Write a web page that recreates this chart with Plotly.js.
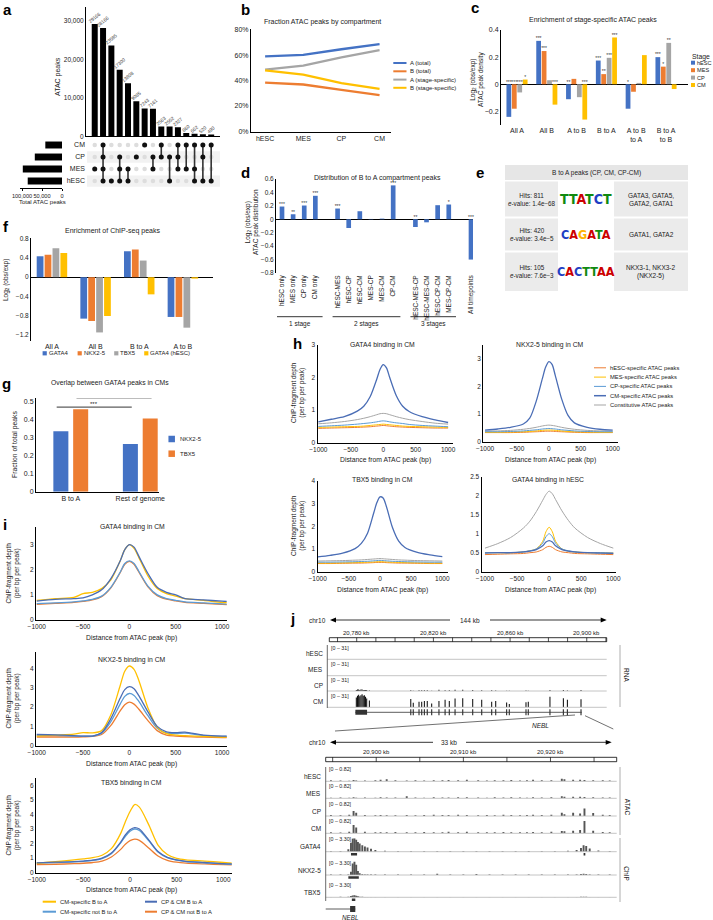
<!DOCTYPE html>
<html>
<head>
<meta charset="utf-8">
<script src="https://cdn.plot.ly/plotly-3.0.1.min.js"></script>
<style>
html,body{margin:0;padding:0;background:#ffffff;}
#fig{width:713px;height:920px;}
</style>
</head>
<body>
<div id="fig"></div>
<script>
// ======================= DATA =======================
// (a) UpSet plot
const upsetSets = ['hESC', 'MES', 'CP', 'CM'];
const upsetSetTotals = [85700, 98000, 68000, 41700];
const upsetCombos = ['MES', 'CM+CP+MES+hESC', 'hESC', 'CP+MES+hESC', 'MES+hESC', 'CP', 'CM', 'CP+MES', 'CM+CP', 'CP+hESC', 'CM+CP+MES', 'CM+MES', 'CM+MES+hESC', 'CM+CP+hESC', 'CM+hESC'];
const upsetCounts = [29166, 28166, 23585, 17300, 13808, 9085, 7243, 7161, 2563, 2552, 2327, 860, 662, 520, 490];
const upsetYTicks = [0, 10000, 20000, 30000];
const upsetYTickText = ['0', '10,000', '20,000', '30,000'];
const totalTicks = [100000, 50000, 0];
const totalTickText = ['100,000', '50,000', '0'];

// (b) Fraction ATAC peaks by compartment
const bStages = ['hESC', 'MES', 'CP', 'CM'];
const bNames = ['A (total)', 'B (total)', 'A (stage-specific)', 'B (stage-specific)'];
const bATotal = [59.0, 60.2, 64.6, 68.6];
const bBTotal = [38.4, 36.9, 32.7, 28.5];
const bASpec = [48.6, 51.8, 58.3, 64.0];
const bBSpec = [48.0, 44.7, 37.9, 33.5];
const bYTicks = [0, 20, 40, 60, 80];

// (c) Enrichment of stage-specific ATAC peaks
const cCats = ['All A', 'All B', 'A to B', 'B to A', 'A to B<br>to A', 'B to A<br>to B'];
const cStages = ['hESC', 'MES', 'CP', 'CM'];
const cHESC = [-0.24, 0.32, -0.11, 0.175, -0.18, 0.2];
const cMES = [-0.18, 0.245, 0.04, 0.075, -0.055, 0.13];
const cCP = [-0.06, 0.03, -0.095, 0.195, 0.01, 0.305];
const cCM = [0.035, -0.15, -0.26, 0.345, 0.215, -0.035];
const cSigHESC = ['***', '***', '**', '***', '*', '***'];
const cSigMES = ['***', '***', '', '**', '', '*'];
const cSigCP = ['***', '', '', '***', '', '**'];
const cSigCM = ['*', '***', '***', '***', '', ''];
const cYTicks = [-0.2, 0, 0.2, 0.4];

// (d) Distribution of B to A compartment peaks
const dCats = ['hESC only', 'MES only', 'CP only', 'CM only', 'hESC-MES', 'hESC-CP', 'hESC-CM', 'MES-CP', 'MES-CM', 'CP-CM', 'hESC-MES-CP', 'hESC-MES-CM', 'hESC-CP-CM', 'MES-CP-CM', 'All timepoints'];
const dGroup = [0, 0, 0, 0, 1, 1, 1, 1, 1, 1, 2, 2, 2, 2, 3];
const dGroupNames = ['1 stage', '2 stages', '3 stages'];
const dVals = [0.19, 0.075, 0.205, 0.35, 0.16, -0.13, 0.12, 0.005, 0.01, 0.505, -0.115, -0.045, 0.21, 0.22, -0.6];
const dSig = ['***', '**', '***', '***', '***', '', '', '', '', '***', '**', '', '', '*', '***'];
const dYTicks = [-0.8, -0.6, -0.4, -0.2, 0, 0.2, 0.4, 0.6];

// (e) motif table
const eHeader = 'B to A peaks (CP, CM, CP-CM)';
const eHits = ['Hits: 811', 'Hits: 420', 'Hits: 105'];
const eEvalues = ['1.4e−68', '3.4e−5', '7.6e−3'];
const eMotifs = ['TTATCT', 'CAGATA', 'CACTTAA'];
const eMatches = ['GATA3, GATA5,<br>GATA2, GATA1', 'GATA1, GATA2', 'NKX3-1, NKX3-2<br>(NKX2-5)'];

// (f) Enrichment of ChIP-seq peaks
const fCats = ['All A', 'All B', 'B to A', 'A to B'];
const fNames = ['GATA4', 'NKX2-5', 'TBX5', 'GATA4 (hESC)'];
const fGATA4 = [0.44, -0.87, 0.545, -0.835];
const fNKX25 = [0.47, -0.92, 0.58, -0.835];
const fTBX5 = [0.61, -1.16, 0.35, -1.06];
const fGATA4hESC = [0.51, -0.815, -0.36, -0.03];
const fYTicks = [-1.2, -0.8, -0.4, 0, 0.4, 0.8];

// (g) Overlap between GATA4 peaks in CMs
const gCats = ['B to A', 'Rest of genome'];
const gNames = ['NKX2-5', 'TBX5'];
const gNKX25 = [0.336, 0.266];
const gTBX5 = [0.459, 0.407];
const gSigLabels = ['***', '**'];
const gYTicks = [0, 0.1, 0.2, 0.3, 0.4, 0.5];

// (h) ChIP profiles around stage-specific ATAC peaks
const hNames = ['hESC-specific ATAC peaks', 'MES-specific ATAC peaks', 'CP-specific ATAC peaks', 'CM-specific ATAC peaks', 'Constitutive ATAC peaks'];
const hX = [-1000, -800, -600, -400, -300, -200, -100, -50, 0, 50, 100, 200, 300, 400, 600, 800, 1000];
const hG4CM_hESC = [0.44, 0.45, 0.46, 0.47, 0.48, 0.49, 0.51, 0.52, 0.53, 0.52, 0.51, 0.49, 0.48, 0.47, 0.46, 0.45, 0.45];
const hG4CM_MES = [0.47, 0.48, 0.49, 0.5, 0.51, 0.53, 0.55, 0.56, 0.57, 0.56, 0.55, 0.53, 0.51, 0.5, 0.49, 0.48, 0.47];
const hG4CM_CP = [0.5, 0.52, 0.54, 0.57, 0.59, 0.61, 0.64, 0.66, 0.67, 0.66, 0.64, 0.61, 0.59, 0.56, 0.53, 0.51, 0.49];
const hG4CM_CM = [0.64, 0.72, 0.8, 0.97, 1.12, 1.42, 1.95, 2.25, 2.4, 2.3, 2.0, 1.45, 1.12, 0.96, 0.8, 0.7, 0.62];
const hG4CM_Con = [0.58, 0.61, 0.65, 0.71, 0.75, 0.8, 0.86, 0.89, 0.9, 0.89, 0.86, 0.8, 0.75, 0.71, 0.65, 0.6, 0.57];
const hNKCM_hESC = [0.33, 0.33, 0.33, 0.34, 0.35, 0.36, 0.37, 0.38, 0.38, 0.38, 0.37, 0.36, 0.35, 0.34, 0.33, 0.33, 0.33];
const hNKCM_MES = [0.34, 0.34, 0.35, 0.36, 0.37, 0.39, 0.41, 0.42, 0.42, 0.42, 0.41, 0.39, 0.37, 0.36, 0.35, 0.34, 0.34];
const hNKCM_CP = [0.36, 0.36, 0.37, 0.39, 0.41, 0.43, 0.46, 0.47, 0.48, 0.47, 0.46, 0.43, 0.41, 0.39, 0.37, 0.36, 0.36];
const hNKCM_CM = [0.42, 0.46, 0.52, 0.64, 0.85, 1.45, 2.3, 2.7, 2.9, 2.8, 2.4, 1.55, 0.95, 0.68, 0.52, 0.45, 0.42];
const hNKCM_Con = [0.38, 0.39, 0.41, 0.45, 0.48, 0.52, 0.57, 0.59, 0.6, 0.59, 0.57, 0.52, 0.48, 0.45, 0.41, 0.39, 0.38];
const hTBCM_hESC = [0.36, 0.36, 0.37, 0.38, 0.38, 0.39, 0.4, 0.41, 0.41, 0.41, 0.4, 0.39, 0.38, 0.38, 0.37, 0.36, 0.36];
const hTBCM_MES = [0.38, 0.38, 0.39, 0.4, 0.41, 0.42, 0.43, 0.44, 0.44, 0.44, 0.43, 0.42, 0.41, 0.4, 0.39, 0.38, 0.38];
const hTBCM_CP = [0.42, 0.42, 0.43, 0.44, 0.45, 0.46, 0.48, 0.49, 0.5, 0.49, 0.48, 0.46, 0.45, 0.44, 0.43, 0.42, 0.42];
const hTBCM_CM = [0.65, 0.72, 0.82, 1.02, 1.25, 1.7, 2.6, 3.05, 3.3, 3.25, 2.9, 1.95, 1.35, 1.07, 0.85, 0.74, 0.66];
const hTBCM_Con = [0.47, 0.48, 0.49, 0.51, 0.52, 0.54, 0.56, 0.57, 0.58, 0.57, 0.56, 0.54, 0.52, 0.51, 0.49, 0.48, 0.47];
const hG4ES_hESC = [0.45, 0.46, 0.47, 0.48, 0.5, 0.52, 0.58, 0.64, 0.67, 0.64, 0.58, 0.52, 0.5, 0.48, 0.47, 0.46, 0.45];
const hG4ES_MES = [0.5, 0.5, 0.5, 0.52, 0.55, 0.6, 0.8, 1.05, 1.17, 1.05, 0.8, 0.6, 0.54, 0.52, 0.5, 0.5, 0.49];
const hG4ES_CP = [0.5, 0.5, 0.5, 0.52, 0.55, 0.6, 0.75, 0.92, 1.0, 0.92, 0.75, 0.6, 0.55, 0.52, 0.5, 0.5, 0.49];
const hG4ES_CM = [0.49, 0.5, 0.5, 0.52, 0.54, 0.58, 0.68, 0.78, 0.82, 0.78, 0.68, 0.58, 0.54, 0.52, 0.5, 0.49, 0.48];
const hG4ES_Con = [0.62, 0.74, 0.9, 1.15, 1.33, 1.58, 1.88, 2.03, 2.12, 2.05, 1.9, 1.6, 1.35, 1.15, 0.9, 0.74, 0.62];
const hTitles = ['GATA4 binding in CM', 'NKX2-5 binding in CM', 'TBX5 binding in CM', 'GATA4 binding in hESC'];

// (i) ChIP profiles around B to A peaks
const iNames = ['CM-specific B to A', 'CP & CM B to A', 'CM-specific not B to A', 'CP & CM not B to A'];
const iX = [-1000, -800, -600, -500, -400, -300, -200, -100, -50, 0, 50, 100, 200, 300, 400, 500, 600, 800, 1000, 1100];
const iG4_specBA = [0.78, 0.85, 0.9, 1.05, 1.1, 1.25, 1.6, 2.35, 2.8, 3.0, 2.85, 2.5, 1.75, 1.25, 1.05, 0.95, 0.85, 0.78, 0.7, 0.68];
const iG4_ccBA = [0.75, 0.82, 0.85, 0.88, 1.0, 1.2, 1.65, 2.35, 2.8, 3.0, 2.9, 2.55, 1.85, 1.3, 1.1, 1.0, 0.85, 0.8, 0.75, 0.73];
const iG4_specNot = [0.65, 0.68, 0.72, 0.76, 0.82, 0.95, 1.3, 1.9, 2.25, 2.35, 2.25, 1.95, 1.35, 1.0, 0.85, 0.78, 0.72, 0.68, 0.64, 0.63];
const iG4_ccNot = [0.62, 0.66, 0.7, 0.74, 0.8, 0.93, 1.28, 1.88, 2.22, 2.33, 2.22, 1.92, 1.32, 0.97, 0.83, 0.76, 0.7, 0.66, 0.62, 0.61];
const iNK_specBA = [0.5, 0.55, 0.6, 0.68, 0.66, 0.78, 1.6, 3.1, 3.85, 4.12, 3.95, 3.4, 1.95, 0.95, 0.62, 0.55, 0.52, 0.48, 0.45, 0.45];
const iNK_ccBA = [0.58, 0.56, 0.52, 0.5, 0.5, 0.68, 1.4, 2.45, 2.9, 3.05, 2.95, 2.6, 1.75, 1.0, 0.72, 0.68, 0.7, 0.55, 0.5, 0.5];
const iNK_specNot = [0.55, 0.53, 0.5, 0.5, 0.5, 0.65, 1.25, 2.15, 2.55, 2.7, 2.6, 2.3, 1.55, 0.9, 0.65, 0.62, 0.65, 0.52, 0.48, 0.48];
const iNK_ccNot = [0.45, 0.45, 0.45, 0.46, 0.48, 0.58, 1.05, 1.8, 2.12, 2.25, 2.15, 1.9, 1.3, 0.78, 0.55, 0.5, 0.47, 0.44, 0.42, 0.42];
const iTB_specBA = [0.65, 0.75, 0.88, 0.95, 1.03, 1.2, 1.65, 2.7, 3.5, 4.2, 4.68, 4.5, 3.3, 1.9, 1.25, 0.98, 0.88, 0.8, 0.7, 0.65];
const iTB_ccBA = [0.68, 0.72, 0.76, 0.8, 0.86, 1.0, 1.35, 2.1, 2.6, 2.95, 3.1, 3.0, 2.25, 1.45, 1.05, 0.88, 0.78, 0.7, 0.62, 0.6];
const iTB_specNot = [0.66, 0.7, 0.74, 0.78, 0.84, 0.97, 1.3, 2.05, 2.5, 2.85, 3.0, 2.9, 2.2, 1.42, 1.03, 0.86, 0.76, 0.68, 0.6, 0.58];
const iTB_ccNot = [0.55, 0.58, 0.62, 0.65, 0.7, 0.8, 1.08, 1.6, 1.95, 2.2, 2.3, 2.22, 1.7, 1.15, 0.85, 0.72, 0.66, 0.6, 0.55, 0.54];
const iTitles = ['GATA4 binding in CM', 'NKX2-5 binding in CM', 'TBX5 binding in CM'];

// (j) genome browser, NEBL locus (kb on chr10)
const rnaTracks = ['hESC', 'MES', 'CP', 'CM'];
const rnaKb = [20779.8, 20780.4, 20781.0, 20781.6, 20782.2, 20782.8, 20783.4, 20784.0, 20784.6, 20785.2, 20786.6, 20808.2, 20809.5, 20812.5, 20813.9, 20815.3, 20816.8, 20819.1, 20822.9, 20826.1, 20828.3, 20831.3, 20835.3, 20840.5, 20845.2, 20850.4, 20852.5, 20858.2, 20859.6, 20868.3, 20869.5, 20880.8, 20887.8, 20889.9, 20897.0];
const rnaCM = [20, 24, 26, 23, 25, 27, 24, 25, 22, 18, 14, 17, 9.6, 11.6, 11.6, 12.9, 13, 7.7, 12.9, 15.5, 13, 18, 18.7, 17.4, 15.5, 11.6, 13, 9.7, 7, 10.3, 11.6, 22, 18.7, 15.5, 16.8];
const rnaCP = [2, 3, 3, 2, 3, 3, 2, 2, 2, 2, 1, 1.5, 0.5, 1.5, 1.5, 1.5, 1.5, 0.5, 2.5, 1.5, 1.5, 2.5, 2.5, 2, 1.5, 1.5, 1, 0.5, 0.5, 1, 0.5, 2, 2, 1, 2];
const neblExonsKb = [20808.2, 20809.5, 20812.5, 20813.9, 20815.3, 20816.8, 20819.1, 20822.9, 20826.1, 20828.3, 20831.3, 20835.3, 20840.5, 20845.2, 20850.4, 20852.5, 20858.2, 20859.6, 20868.3, 20869.5, 20880.8, 20887.8, 20889.9, 20897.0];
const neblGeneKb = [20779.3, 20897.4];
const neblFirstExonKb = [20779.3, 20785.4];
const rulerTopKb = [20780, 20820, 20860, 20900];
const rulerBotKb = [20900, 20910, 20920];
const lowTracks = ['hESC', 'MES', 'CP', 'CM', 'GATA4', 'NKX2-5', 'TBX5'];
const lowRanges = ['[0 – 0.82]', '[0 – 0.82]', '[0 – 0.82]', '[0 – 0.82]', '[0 – 3.30]', '[0 – 3.30]', '[0 – 3.30]'];
const jAtacPos = [20894.8, 20895.9, 20896.9, 20897.4, 20897.7, 20898.7, 20899.9, 20900.5, 20901.2, 20902.2, 20903.5, 20904.5, 20905.5, 20906.6, 20907.6, 20908.3, 20909.4, 20910.4, 20911.7, 20912.7, 20913.6, 20914.6, 20915.5, 20916.5, 20917.3, 20918.0, 20919.0, 20920.1, 20921.3, 20921.6, 20922.6, 20923.4, 20923.9, 20924.9, 20926.0, 20926.8];
const atacHESC = [0.06, 0.05, 0.04, 0.08, 0.05, 0.05, 0.07, 0.1, 0.13, 0.06, 0.05, 0.06, 0.05, 0.07, 0.06, 0.08, 0.07, 0.1, 0.06, 0.05, 0.07, 0.06, 0.08, 0.05, 0.07, 0.09, 0.06, 0.07, 0.16, 0.12, 0.09, 0.1, 0.08, 0.07, 0.06, 0.05];
const atacMES = [0.04, 0.05, 0.03, 0.06, 0.04, 0.05, 0.04, 0.06, 0.05, 0.05, 0.12, 0.05, 0.04, 0.06, 0.05, 0.05, 0.06, 0.07, 0.05, 0.04, 0.06, 0.05, 0.06, 0.05, 0.04, 0.06, 0.05, 0.06, 0.12, 0.1, 0.09, 0.1, 0.08, 0.06, 0.05, 0.05];
const atacCP = [0.06, 0.05, 0.08, 0.31, 0.2, 0.06, 0.05, 0.06, 0.05, 0.05, 0.06, 0.05, 0.06, 0.08, 0.06, 0.06, 0.07, 0.06, 0.05, 0.06, 0.05, 0.07, 0.06, 0.05, 0.06, 0.07, 0.06, 0.07, 0.2, 0.1, 0.2, 0.15, 0.45, 0.18, 0.08, 0.06];
const atacCM = [0.06, 0.05, 0.1, 0.5, 0.35, 0.1, 0.06, 0.07, 0.06, 0.08, 0.06, 0.07, 0.08, 0.06, 0.07, 0.09, 0.07, 0.1, 0.06, 0.07, 0.06, 0.08, 0.06, 0.07, 0.06, 0.08, 0.07, 0.1, 0.14, 0.12, 0.15, 0.2, 0.75, 0.15, 0.08, 0.06];
const jChipPos = [20894.8, 20895.9, 20896.8, 20897.1, 20897.3, 20897.5, 20897.7, 20897.9, 20898.1, 20898.4, 20898.7, 20899.0, 20899.4, 20899.9, 20901.0, 20902.5, 20904.0, 20905.5, 20907.0, 20908.5, 20910.0, 20911.5, 20913.0, 20914.5, 20916.0, 20917.5, 20919.0, 20920.5, 20922.0, 20923.0, 20923.5, 20923.8, 20924.1, 20924.5, 20925.5, 20926.8];
const chipGATA4 = [0.15, 0.2, 0.6, 2.2, 3.2, 3.3, 2.9, 2.4, 2.0, 1.6, 1.3, 1.0, 0.7, 0.4, 0.25, 0.2, 0.15, 0.2, 0.15, 0.2, 0.15, 0.2, 0.15, 0.2, 0.15, 0.2, 0.2, 0.15, 0.25, 0.4, 0.9, 1.6, 1.4, 0.8, 0.3, 0.15];
const chipNKX25 = [0.1, 0.1, 0.15, 0.8, 2.8, 3.3, 2.5, 1.0, 0.4, 0.2, 0.15, 0.1, 0.1, 0.1, 0.1, 0.15, 0.1, 0.1, 0.3, 0.1, 0.1, 0.25, 0.1, 0.1, 0.15, 0.1, 0.1, 0.1, 0.1, 0.15, 0.25, 0.3, 0.25, 0.15, 0.1, 0.1];
const chipTBX5 = [0.1, 0.12, 0.15, 0.3, 0.45, 0.5, 0.4, 0.25, 0.15, 0.12, 0.1, 0.1, 0.1, 0.08, 0.1, 0.1, 0.08, 0.1, 0.1, 0.08, 0.1, 0.1, 0.08, 0.1, 0.1, 0.08, 0.1, 0.1, 0.08, 0.1, 0.12, 0.15, 0.12, 0.1, 0.08, 0.1];
const peakCallsGATA4 = [[20897.1, 20897.8], [20923.8, 20924.0]];
const peakCallsNKX25 = [[20896.8, 20898.0]];
const peakCallsTBX5 = [[20897.2, 20897.6]];
const neblLowGeneKb = [20894.0, 20897.6];
const neblLowExonKb = [20897.0, 20897.6];

// ======================= STYLE / HELPERS =======================
const W = 713, H = 920;
const FONT = '"Liberation Sans", Arial, Helvetica, sans-serif';
const TXT = '#222';
const C_BLUE = '#4472C4', C_ORANGE = '#ED7D31', C_GRAY = '#A5A5A5', C_YELLOW = '#FFC000', C_LBLUE = '#5B9BD5';
const px = x => x / W, py = y => 1 - y / H;
const xd = (a, b) => [a / W, b / W];
const yd = (t, b) => [1 - b / H, 1 - t / H];
const tf = s => ({family: FONT, size: s, color: TXT});
const traces = [], ANN = [], SH = [];
const layout = {
  width: W, height: H, margin: {l: 0, r: 0, t: 0, b: 0, pad: 0},
  paper_bgcolor: '#ffffff', plot_bgcolor: 'rgba(0,0,0,0)', showlegend: false,
  barmode: 'overlay', hovermode: false,
  font: {family: FONT, size: 6.5, color: TXT}, annotations: ANN, shapes: SH
};
function T(x, y, text, o) {
  o = o || {};
  const f = Object.assign({family: FONT, size: 6.5, color: TXT}, o.font || {});
  const a = Object.assign({xref: 'paper', yref: 'paper', x: px(x), y: py(y), text: text, showarrow: false,
    xanchor: 'center', yanchor: 'middle', borderpad: 0}, o);
  a.font = f;
  ANN.push(a);
}
function L(x0, y0, x1, y1, color, w) {
  SH.push({type: 'line', xref: 'paper', yref: 'paper', x0: px(x0), y0: py(y0), x1: px(x1), y1: py(y1),
    line: {color: color || '#000', width: w || 1}});
}
function R(x0, y0, x1, y1, fill, layer) {
  SH.push({type: 'rect', xref: 'paper', yref: 'paper', x0: px(x0), y0: py(y0), x1: px(x1), y1: py(y1),
    fillcolor: fill, line: {width: 0}, layer: layer || 'below'});
}
function P(pts, fill) {
  const s = 'M' + pts.map(p => px(p[0]) + ',' + py(p[1])).join(' L') + ' Z';
  SH.push({type: 'path', xref: 'paper', yref: 'paper', path: s, fillcolor: fill, line: {width: 0}});
}
function baseAx() {
  return {showgrid: false, zeroline: false, showline: false, ticks: '', linecolor: '#000', linewidth: 1,
    tickfont: tf(6.5), fixedrange: true, automargin: false};
}
const axName = (p, n) => n === 1 ? p + 'axis' : p + 'axis' + n;
const ref = (p, n) => n === 1 ? p : p + n;
function addAxes(n, xdom, xrng, ydom, yrng, xo, yo) {
  layout[axName('x', n)] = Object.assign(baseAx(), {domain: xdom, range: xrng, anchor: ref('y', n)}, xo || {});
  layout[axName('y', n)] = Object.assign(baseAx(), {domain: ydom, range: yrng, anchor: ref('x', n)}, yo || {});
}
function legLine(x0, x1, y, color, w, label, tx, fs) {
  L(x0, y, x1, y, color, w);
  T(tx, y, label, {xanchor: 'left', font: {size: fs || 6}});
}
function legSq(cx, y, s, color, label, tx, fs) {
  R(cx - s / 2, y - s / 2, cx + s / 2, y + s / 2, color, 'above');
  T(tx, y, label, {xanchor: 'left', font: {size: fs || 6}});
}
function starTrace(xs, ys, labels, xa, ya) {
  const X = [], Y = [], S = [];
  labels.forEach((s, i) => { if (s) { X.push(xs[i]); Y.push(ys[i]); S.push(s); } });
  traces.push({type: 'scatter', mode: 'text', x: X, y: Y, text: S, textposition: 'top center',
    textfont: {family: FONT, size: 5, color: '#333'}, xaxis: xa, yaxis: ya, cliponaxis: false});
}
const LETTER = {size: 15, color: '#000'};

// ======================= (a) =======================
T(7, 9, '<b>a</b>', {font: LETTER});
addAxes(1, xd(86, 220), [-1.05, 15.06], yd(7, 136.3), [0, 33600],
  {type: 'category', categoryarray: upsetCombos, categoryorder: 'array', showticklabels: false, showline: true},
  {showline: true, tickvals: upsetYTicks, ticktext: upsetYTickText, tickfont: tf(6.5)});
traces.push({type: 'bar', x: upsetCombos, y: upsetCounts, xaxis: 'x', yaxis: 'y', width: 0.72,
  marker: {color: '#000', line: {width: 0}}, text: upsetCounts.map(String), textposition: 'outside',
  textangle: -40, textfont: {family: FONT, size: 4.8, color: '#444'}, constraintext: 'none', cliponaxis: false});
addAxes(2, xd(86, 220), [-1.05, 15.06], yd(139, 188), [-0.58, 3.5],
  {type: 'category', categoryarray: upsetCombos, categoryorder: 'array', visible: false},
  {type: 'category', categoryarray: upsetSets, categoryorder: 'array', tickfont: tf(7)});
upsetSets.forEach((s, j) => {
  if (j % 2 === 0) SH.push({type: 'rect', xref: 'paper', yref: 'y2', x0: px(87), x1: px(220), y0: j - 0.47, y1: j + 0.47,
    fillcolor: '#f2f2f2', line: {width: 0}, layer: 'below'});
});
(function () {
  const gx = [], gy = [], bx = [], by = [], lx = [], ly = [];
  upsetCombos.forEach(c => {
    const mem = c.split('+');
    upsetSets.forEach(s => { gx.push(c); gy.push(s); if (mem.includes(s)) { bx.push(c); by.push(s); } });
    const idx = mem.map(m => upsetSets.indexOf(m));
    if (mem.length > 1) { lx.push(c, c, null); ly.push(upsetSets[Math.min(...idx)], upsetSets[Math.max(...idx)], null); }
  });
  traces.push({type: 'scatter', mode: 'markers', x: gx, y: gy, xaxis: 'x2', yaxis: 'y2', marker: {color: '#dddddd', size: 4.5}});
  traces.push({type: 'scatter', mode: 'lines', x: lx, y: ly, xaxis: 'x2', yaxis: 'y2', line: {color: '#333', width: 1.6}, connectgaps: false});
  traces.push({type: 'scatter', mode: 'markers', x: bx, y: by, xaxis: 'x2', yaxis: 'y2', marker: {color: '#111', size: 5}});
})();
addAxes(3, xd(20, 62), [105000, 0], yd(139, 188), [-0.58, 3.5],
  {showline: true, ticks: 'outside', ticklen: 2, tickcolor: '#000', tickangle: 0, tickvals: totalTicks, ticktext: totalTickText, tickfont: tf(5.6)},
  {type: 'category', categoryarray: upsetSets, categoryorder: 'array', visible: false});
traces.push({type: 'bar', orientation: 'h', x: upsetSetTotals, y: upsetSets, xaxis: 'x3', yaxis: 'y3', width: 0.58, marker: {color: '#000'}});
T(58, 77, 'ATAC peaks', {textangle: -90, font: {size: 7}});
T(42, 202, 'Total ATAC peaks', {font: {size: 6}});

// ======================= (b) =======================
T(245, 9, '<b>b</b>', {font: LETTER});
addAxes(4, xd(251, 391), [-0.37, 3.3], yd(29, 131.5), [0, 80.5],
  {type: 'category', categoryarray: bStages, categoryorder: 'array', showline: true, tickfont: tf(7)},
  {showline: true, tickvals: bYTicks, ticktext: bYTicks.map(v => v + '%'), tickfont: tf(7)});
const bColors = [C_BLUE, C_ORANGE, C_GRAY, C_YELLOW];
[bATotal, bBTotal, bASpec, bBSpec].forEach((arr, k) => {
  traces.push({type: 'scatter', mode: 'lines', x: bStages, y: arr, xaxis: 'x4', yaxis: 'y4', line: {color: bColors[k], width: 2.3}, name: bNames[k]});
});
T(322, 22, 'Fraction ATAC peaks by compartment', {font: {size: 7}});
[63, 71.3, 79.6, 87.8].forEach((y, k) => legLine(393.3, 406.5, y, bColors[k], 2, bNames[k], 408.5, 6));

// ======================= (c) =======================
T(475, 8, '<b>c</b>', {font: LETTER});
addAxes(5, xd(501, 688), [-0.537, 5.738], yd(30, 125), [-0.3, 0.4],
  {tickvals: cCats.map((_, i) => i), ticktext: cCats, tickfont: tf(7)},
  {showline: true, zeroline: true, zerolinecolor: '#000', zerolinewidth: 1, tickvals: cYTicks, tickfont: tf(7)});
const cColors = [C_BLUE, C_ORANGE, C_GRAY, C_YELLOW];
(function () {
  const GW = 0.73, slot = GW / 4, bw = 0.16;
  const series = [cHESC, cMES, cCP, cCM], sigs = [cSigHESC, cSigMES, cSigCP, cSigCM];
  series.forEach((arr, k) => {
    const off = -GW / 2 + k * slot + (slot - bw) / 2;
    const xs = arr.map((_, i) => i);
    traces.push({type: 'bar', x: xs, y: arr, xaxis: 'x5', yaxis: 'y5', width: bw, offset: off, marker: {color: cColors[k]}, name: cStages[k]});
    starTrace(xs.map(i => i + off + bw / 2), arr.map(v => Math.max(v, 0) - 0.004), sigs[k], 'x5', 'y5');
  });
})();
T(593, 20, 'Enrichment of stage-specific ATAC peaks', {font: {size: 7}});
T(477, 80, 'Log<sub>2</sub> (obs/exp)<br>ATAC peak density', {textangle: -90, font: {size: 6.5}});
T(690.5, 57, 'Stage', {xanchor: 'left', font: {size: 6.8}});
[62.7, 70.2, 77.6, 85].forEach((y, k) => legSq(693, y, 4, cColors[k], cStages[k], 695.8, 5.6));

// ======================= (d) =======================
T(245, 172, '<b>d</b>', {font: LETTER});
const dPos = dCats.map((_, i) => i + dGroup[i]);
addAxes(6, xd(276, 473), [-0.54, 17.18], yd(179, 273), [-0.8, 0.6],
  {tickvals: dPos, ticktext: dCats, tickangle: -90, tickfont: tf(6.5)},
  {showline: true, zeroline: true, zerolinecolor: '#000', zerolinewidth: 1, tickvals: dYTicks, tickfont: tf(6.5)});
traces.push({type: 'bar', x: dPos, y: dVals, xaxis: 'x6', yaxis: 'y6', width: 0.42, marker: {color: C_BLUE}});
starTrace(dPos, dVals.map(v => Math.max(v, 0) - 0.01), dSig, 'x6', 'y6');
dGroupNames.forEach((g, k) => {
  const ps = dPos.filter((_, i) => dGroup[i] === k);
  const lo = Math.min(...ps), hi = Math.max(...ps);
  SH.push({type: 'line', xref: 'x6', yref: 'paper', x0: lo - 0.45, x1: hi + 0.65, y0: py(316.7), y1: py(316.7), line: {color: '#000', width: 0.8}});
  ANN.push({xref: 'x6', yref: 'paper', x: (lo + hi) / 2 + 0.1, y: py(324.5), text: g, showarrow: false, font: tf(6.5), xanchor: 'center', yanchor: 'middle'});
});
T(377, 177.5, 'Distribution of B to A compartment peaks', {font: {size: 7}});
T(252, 222, 'Log<sub>2</sub> (obs/exp)<br>ATAC peak distribution', {textangle: -90, font: {size: 6.5}});

// ======================= (e) =======================
T(480, 172, '<b>e</b>', {font: LETTER});
(function () {
  const rows = [[181.5, 216.5], [218.5, 250.5], [252.5, 291]];
  R(505, 165, 688, 180, '#e6e6e6');
  T(596.5, 172.5, eHeader, {font: {size: 6.5}});
  const LC = {A: '#cc0000', C: '#1f3fc4', G: '#ffb300', T: '#108a10'};
  rows.forEach((r, k) => {
    R(505, r[0], 558, r[1], '#ebebeb');
    R(614, r[0], 688, r[1], '#ebebeb');
    const cy = (r[0] + r[1]) / 2;
    T(531.5, cy, eHits[k] + '<br><i>e</i>-value: ' + eEvalues[k], {font: {size: 6.3}});
    T(651, cy, eMatches[k], {font: {size: 6.5}});
    const html = '<b>' + eMotifs[k].split('').map(ch => '<span style="color:' + LC[ch] + '">' + ch + '</span>').join('') + '</b>';
    T(586, cy, html, {font: {size: k === 0 ? 14 : 12.5, family: '"Liberation Sans Narrow", "DejaVu Sans Condensed", "Liberation Sans", Arial, sans-serif'}});
  });
})();

// ======================= (f) =======================
T(6, 226, '<b>f</b>', {font: LETTER});
addAxes(7, xd(31, 213), [-0.48, 3.69], yd(237.7, 341), [-1.34, 0.83],
  {tickvals: fCats.map((_, i) => i), ticktext: fCats, tickfont: tf(7)},
  {showline: true, zeroline: true, zerolinecolor: '#000', zerolinewidth: 1, tickvals: fYTicks, tickfont: tf(6.5)});
const fColors = [C_BLUE, C_ORANGE, C_GRAY, C_YELLOW];
(function () {
  const GW = 0.725, slot = GW / 4, bw = 0.155;
  [fGATA4, fNKX25, fTBX5, fGATA4hESC].forEach((arr, k) => {
    const off = -GW / 2 + k * slot + (slot - bw) / 2;
    traces.push({type: 'bar', x: arr.map((_, i) => i), y: arr, xaxis: 'x7', yaxis: 'y7', width: bw, offset: off, marker: {color: fColors[k]}, name: fNames[k]});
  });
})();
T(112, 231, 'Enrichment of ChIP-seq peaks', {font: {size: 7}});
T(6, 280, 'Log<sub>2</sub> (obs/exp)', {textangle: -90, font: {size: 6.5}});
[[44.7, 47.7], [79.7, 82.7], [116.3, 119.3], [146.3, 149.3]].forEach((p, k) => legSq(p[0], 353.3, 4.2, fColors[k], fNames[k], p[1], 6));

// ======================= (g) =======================
T(6, 383, '<b>g</b>', {font: LETTER});
addAxes(8, xd(36, 159), [-0.5, 1.269], yd(398.3, 491.7), [0, 0.52],
  {showline: true, tickvals: gCats.map((_, i) => i), ticktext: gCats, tickfont: tf(7)},
  {showline: true, tickvals: gYTicks, tickfont: tf(7)});
const gColors = [C_BLUE, C_ORANGE];
(function () {
  const GW = 0.57, slot = GW / 2, bw = 0.216;
  const centers = [];
  [gNKX25, gTBX5].forEach((arr, k) => {
    const off = -GW / 2 + k * slot + (slot - bw) / 2;
    centers.push(off + bw / 2);
    traces.push({type: 'bar', x: arr.map((_, i) => i), y: arr, xaxis: 'x8', yaxis: 'y8', width: bw, offset: off, marker: {color: gColors[k]}, name: gNames[k]});
  });
  const top = Math.max(...gNKX25, ...gTBX5);
  const levels = [top + 0.012, top + 0.063];
  gSigLabels.forEach((lab, k) => {
    const x0 = centers[k] - 0.06, x1 = 1 + centers[k] + 0.02;
    SH.push({type: 'line', xref: 'x8', yref: 'y8', x0: x0, x1: x1, y0: levels[k], y1: levels[k], line: {color: '#000', width: 0.8}});
    ANN.push({xref: 'x8', yref: 'y8', x: (x0 + x1) / 2, y: levels[k], text: lab, showarrow: false, yanchor: 'bottom', yshift: -2, font: tf(6)});
  });
})();
T(110, 383, 'Overlap between GATA4 peaks in CMs', {font: {size: 6.8}});
T(15, 445, 'Fraction of total peaks', {textangle: -90, font: {size: 6.8}});
[439, 453.7].forEach((y, k) => legSq(171.7, y, 6.5, gColors[k], gNames[k], 178.5, 6));

// ======================= (h) =======================
T(297, 343, '<b>h</b>', {font: LETTER});
const hColors = [C_ORANGE, C_YELLOW, C_LBLUE, '#4a6db5', C_GRAY];
const hXo = {showline: true, linewidth: 1.2, tickvals: [-1000, -500, 0, 500, 1000], tickfont: tf(6.5)};
const hYo = (tv) => ({showline: true, linewidth: 1.2, tickvals: tv, tickfont: tf(6.5)});
addAxes(9, xd(317.7, 453.3), [-1010, 1080], yd(345, 442.7), [0, 3], hXo, hYo([0, 1, 2, 3]));
addAxes(10, xd(483.3, 618), [-1027, 1083], yd(345, 441.7), [0, 3.5], hXo, hYo([0, 1, 2, 3]));
addAxes(11, xd(317.7, 448.3), [-1000, 1096], yd(481, 571.7), [0, 4], hXo, hYo([0, 1, 2, 3, 4]));
addAxes(12, xd(481.7, 616), [-1051, 1042], yd(476.7, 571.7), [0, 2.5], hXo, hYo([0, 0.5, 1, 1.5, 2, 2.5]));
const hSets = [
  [hG4CM_hESC, hG4CM_MES, hG4CM_CP, hG4CM_CM, hG4CM_Con],
  [hNKCM_hESC, hNKCM_MES, hNKCM_CP, hNKCM_CM, hNKCM_Con],
  [hTBCM_hESC, hTBCM_MES, hTBCM_CP, hTBCM_CM, hTBCM_Con],
  [hG4ES_hESC, hG4ES_MES, hG4ES_CP, hG4ES_CM, hG4ES_Con]
];
const hOrder = [4, 0, 1, 2, 3];
hSets.forEach((set, p) => {
  hOrder.forEach(k => {
    traces.push({type: 'scatter', mode: 'lines', x: hX, y: set[k], xaxis: 'x' + (9 + p), yaxis: 'y' + (9 + p),
      line: {color: hColors[k], width: k === 3 ? 1.3 : 1, shape: 'spline', smoothing: 0.8}, name: hNames[k]});
  });
});
[[383, 345], [550, 345], [383, 480], [548, 480]].forEach((p, k) => T(p[0], p[1], hTitles[k], {font: {size: 6.8}}));
[[385, 460], [550, 460], [383, 590], [550, 590]].forEach(p => T(p[0], p[1], 'Distance from ATAC peak (bp)', {font: {size: 6.8}}));
T(298, 393, 'ChIP-fragment depth<br>(per bp per peak)', {textangle: -90, font: {size: 6.5}});
T(298, 526, 'ChIP-fragment depth<br>(per bp per peak)', {textangle: -90, font: {size: 6.5}});
[367.8, 377.1, 386.4, 395.7, 405].forEach((y, k) => legLine(594, 606, y, hColors[k], k === 3 ? 1.5 : 1, hNames[k], 608.5, 5.8));

// ======================= (i) =======================
T(5, 524, '<b>i</b>', {font: LETTER});
const iColors = [C_YELLOW, '#4a6db5', C_LBLUE, C_ORANGE];
const iXo = {showline: true, linewidth: 1.2, tickvals: [-1000, -500, 0, 500, 1000], tickfont: tf(6.5)};
addAxes(13, xd(36, 226.7), [-1008, 1050], yd(527, 620), [0, 3.7], iXo, hYo([0, 1, 2, 3]));
addAxes(14, xd(36, 226.7), [-1008, 1050], yd(651.7, 745.7), [0, 4.86], iXo, hYo([0, 1, 2, 3, 4]));
addAxes(15, xd(36, 231.7), [-1008, 1090], yd(778, 872.7), [0, 6.5], iXo, hYo([0, 1, 2, 3, 4, 5, 6]));
const iSets = [
  [iG4_specBA, iG4_ccBA, iG4_specNot, iG4_ccNot],
  [iNK_specBA, iNK_ccBA, iNK_specNot, iNK_ccNot],
  [iTB_specBA, iTB_ccBA, iTB_specNot, iTB_ccNot]
];
const iOrder = [3, 2, 0, 1];
iSets.forEach((set, p) => {
  iOrder.forEach(k => {
    traces.push({type: 'scatter', mode: 'lines', x: iX, y: set[k], xaxis: 'x' + (13 + p), yaxis: 'y' + (13 + p),
      line: {color: iColors[k], width: 1.3, shape: 'spline', smoothing: 0.8}, name: iNames[k]});
  });
});
[[132, 527], [132, 660], [131, 783]].forEach((p, k) => T(p[0], p[1], iTitles[k], {font: {size: 6.8}}));
[638.3, 764.3, 890].forEach(y => T(131, y, 'Distance from ATAC peak (bp)', {font: {size: 6.8}}));
[573, 698, 825].forEach(y => T(12.5, y, 'ChIP-fragment depth<br>(per bp per peak)', {textangle: -90, font: {size: 6.5}}));
legLine(42.7, 56, 901.7, iColors[0], 2, iNames[0], 58.5, 5.8);
legLine(145, 157, 901.7, iColors[1], 2, iNames[1], 159.5, 5.8);
legLine(42.7, 56, 911.7, iColors[2], 2, iNames[2], 58.5, 5.8);
legLine(145, 157, 911.7, iColors[3], 2, iNames[3], 159.5, 5.8);

// ======================= (j) =======================
T(292, 618, '<b>j</b>', {font: LETTER});
layout.xaxis16 = Object.assign(baseAx(), {domain: xd(329.3, 606.7), range: [20765.7, 20910.4], anchor: 'y19', visible: false});
const rnaBase = [659.3, 675.7, 691, 707.3];
rnaBase.forEach((b, k) => {
  layout['yaxis' + (16 + k)] = Object.assign(baseAx(), {domain: yd(b - 15, b), range: [0, 31], anchor: 'x16', visible: false});
  L(327.3, b, 606.7, b, '#b5b5b5', 0.8);
  T(324, b - 6, rnaTracks[k], {xanchor: 'right', font: {size: 6.5}});
  T(330, b - 11.5, '[0 – 31]', {xanchor: 'left', font: {size: 5.3}});
});
traces.push({type: 'bar', x: rnaKb, y: rnaCP, xaxis: 'x16', yaxis: 'y18', width: 0.55, marker: {color: '#111'}});
traces.push({type: 'bar', x: rnaKb, y: rnaCM, xaxis: 'x16', yaxis: 'y19', width: 0.55, marker: {color: '#111'}});
L(327.3, 645, 327.3, 708, '#444', 0.8);
L(620, 645, 620, 707, '#999', 0.8);
T(627, 675, 'RNA', {textangle: 90, font: {size: 6.5}});
T(317, 620, 'chr10', {font: {size: 6.5}});
L(332, 620, 450, 620, '#000', 0.8); L(490, 620, 604, 620, '#000', 0.8);
P([[330, 620], [336, 617.6], [336, 622.4]], '#000');
P([[606.7, 620], [600.7, 617.6], [600.7, 622.4]], '#000');
T(470, 620, '144 kb', {font: {size: 6.5}});
SH.push({type: 'rect', xref: 'paper', yref: 'paper', x0: px(329.3), x1: px(606.7), y0: py(641.7), y1: py(637.7), fillcolor: 'rgba(0,0,0,0)', line: {color: '#000', width: 0.8}});
for (let kb = 20770; kb <= 20910; kb += 10) {
  SH.push({type: 'line', xref: 'x16', yref: 'paper', x0: kb, x1: kb, y0: py(637.7), y1: py(641.7), line: {color: '#000', width: 0.7}});
}
rulerTopKb.forEach(kb => ANN.push({xref: 'x16', yref: 'paper', x: kb, y: py(633), text: kb.toLocaleString('en-US') + ' kb', showarrow: false, font: tf(6), xanchor: 'center', yanchor: 'middle'}));
SH.push({type: 'line', xref: 'x16', yref: 'paper', x0: neblGeneKb[0], x1: neblGeneKb[1], y0: py(712.3), y1: py(712.3), line: {color: '#333', width: 0.8}});
SH.push({type: 'rect', xref: 'x16', yref: 'paper', x0: neblFirstExonKb[0], x1: neblFirstExonKb[1], y0: py(714.8), y1: py(709.8), fillcolor: '#333', line: {width: 0}});
neblExonsKb.forEach(kb => SH.push({type: 'rect', xref: 'x16', yref: 'paper', x0: kb - 0.3, x1: kb + 0.3, y0: py(715.3), y1: py(709.3), fillcolor: '#333', line: {width: 0}}));
T(540, 725, '<i>NEBL</i>', {font: {size: 6.5}});
L(335, 731, 575, 715, '#333', 0.7);
L(585, 715.7, 613.3, 729, '#333', 0.7);
T(317, 742.3, 'chr10', {font: {size: 6.5}});
L(332, 742.3, 433, 742.3, '#000', 0.8); L(466, 742.3, 609.7, 742.3, '#000', 0.8);
P([[330, 742.3], [336, 739.9], [336, 744.7]], '#000');
P([[611.7, 742.3], [605.7, 739.9], [605.7, 744.7]], '#000');
T(449.3, 742.3, '33 kb', {font: {size: 6.5}});
layout.xaxis17 = Object.assign(baseAx(), {domain: xd(325.7, 616.7), range: [20894.2, 20927.6], anchor: 'y26', visible: false});
SH.push({type: 'rect', xref: 'paper', yref: 'paper', x0: px(325.7), x1: px(616.7), y0: py(761.7), y1: py(757.3), fillcolor: 'rgba(0,0,0,0)', line: {color: '#000', width: 0.8}});
for (let kb = 20895; kb <= 20925; kb += 5) {
  SH.push({type: 'line', xref: 'x17', yref: 'paper', x0: kb, x1: kb, y0: py(757.3), y1: py(761.7), line: {color: '#000', width: 0.7}});
}
rulerBotKb.forEach(kb => ANN.push({xref: 'x17', yref: 'paper', x: kb, y: py(751.7), text: kb.toLocaleString('en-US') + ' kb', showarrow: false, font: tf(6), xanchor: 'center', yanchor: 'middle'}));
const lowBase = [781.3, 798.3, 816, 833.3, 851.7, 875, 897.3];
const lowData = [atacHESC, atacMES, atacCP, atacCM, chipGATA4, chipNKX25, chipTBX5];
lowBase.forEach((b, k) => {
  const isChip = k >= 4;
  layout['yaxis' + (20 + k)] = Object.assign(baseAx(), {domain: yd(b - 13.5, b), range: [0, isChip ? 3.3 : 0.82], anchor: 'x17', visible: false});
  traces.push({type: 'bar', x: isChip ? jChipPos : jAtacPos, y: lowData[k], xaxis: 'x17', yaxis: 'y' + (20 + k), width: 0.22, marker: {color: '#555'}});
  L(325.7, b, 616.7, b, '#b5b5b5', 0.8);
  T(322, b - 5, lowTracks[k], {xanchor: 'right', font: {size: 6.5}});
  T(328, b - 12.5, lowRanges[k], {xanchor: 'left', font: {size: 5.3}});
});
const pcBase = [[peakCallsGATA4, 853], [peakCallsNKX25, 876.3], [peakCallsTBX5, 898.6]];
pcBase.forEach(pc => pc[0].forEach(iv => SH.push({type: 'rect', xref: 'x17', yref: 'paper', x0: iv[0], x1: iv[1], y0: py(pc[1] + 2.4), y1: py(pc[1]), fillcolor: '#333', line: {width: 0}})));
L(325.7, 767, 325.7, 901, '#444', 0.8);
L(620, 767, 620, 835, '#999', 0.8);
L(620, 838, 620, 902, '#999', 0.8);
T(627, 806.7, 'ATAC', {textangle: 90, font: {size: 6.5}});
T(627, 873.3, 'ChIP', {textangle: 90, font: {size: 6.5}});
SH.push({type: 'line', xref: 'x17', yref: 'paper', x0: neblLowGeneKb[0], x1: neblLowGeneKb[1], y0: py(909), y1: py(909), line: {color: '#333', width: 0.8}});
SH.push({type: 'rect', xref: 'x17', yref: 'paper', x0: neblLowExonKb[0], x1: neblLowExonKb[1], y0: py(912), y1: py(906), fillcolor: '#333', line: {width: 0}});
T(350, 917.3, '<i>NEBL</i>', {font: {size: 6.3}});

Plotly.newPlot('fig', traces, layout, {staticPlot: true, displayModeBar: false});
</script>
</body>
</html>
